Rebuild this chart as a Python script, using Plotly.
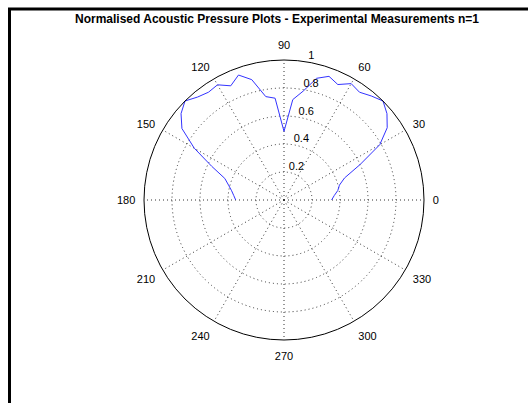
import plotly.graph_objects as go

theta_deg = [0, 5, 10, 15, 20, 25, 30, 35, 40, 45, 50, 55, 60, 65, 70, 75, 80, 85, 90,
             95, 100, 105, 110, 115, 120, 125, 130, 135, 140, 145, 150, 155, 160, 165, 170, 175, 180]
pressure = [0.34, 0.36, 0.39, 0.41, 0.46, 0.60, 0.79, 0.90, 0.96, 1.00, 0.97, 0.94, 0.96, 0.91, 0.94, 0.90, 0.79, 0.72, 0.49,
            0.73, 0.75, 0.89, 0.95, 0.90, 0.95, 0.94, 0.96, 1.00, 0.96, 0.89, 0.74, 0.57, 0.45, 0.41, 0.38, 0.36, 0.345]

angle_ticks = list(range(0, 360, 30))
angle_labels = [str(a) for a in angle_ticks]
radial_ticks = [0.2, 0.4, 0.6, 0.8, 1.0]
radial_labels = ["0.2", "0.4", "0.6", "0.8", "1"]
radial_label_angle = 80

W, H = 528, 403
cx, cy, R = 284, 200, 140

font = dict(family="Liberation Sans, Arial, sans-serif", size=11, color="#000")

fig = go.Figure()
fig.add_trace(go.Scatterpolar(
    r=pressure, theta=theta_deg, mode="lines",
    line=dict(color="#3333ff", width=1), showlegend=False, hoverinfo="skip",
))
# radial tick labels, placed like MATLAB's polar() labels
fig.add_trace(go.Scatterpolar(
    r=radial_ticks, theta=[radial_label_angle] * len(radial_ticks),
    mode="text", text=radial_labels, textposition="top right",
    textfont=font, showlegend=False, hoverinfo="skip",
))

fig.update_layout(
    width=W, height=H,
    margin=dict(l=0, r=0, t=0, b=0),
    paper_bgcolor="white",
    title=dict(text="<b>Normalised Acoustic Pressure Plots - Experimental Measurements n=1</b>",
               x=277 / W, xanchor="center", y=1 - 19 / H, yanchor="middle",
               font=dict(family="Liberation Sans, Arial, sans-serif", size=12, color="#000")),
    polar=dict(
        domain=dict(x=[(cx - R) / W, (cx + R) / W], y=[(H - cy - R) / H, (H - cy + R) / H]),
        bgcolor="white",
        angularaxis=dict(
            direction="counterclockwise", rotation=0,
            tickmode="array", tickvals=angle_ticks, ticktext=angle_labels,
            showline=True, linecolor="#000", linewidth=1,
            showgrid=True, gridcolor="#333", griddash="1px,3px", gridwidth=1,
            ticks="outside", ticklen=6, tickcolor="rgba(0,0,0,0)", tickfont=font,
        ),
        radialaxis=dict(
            range=[0, 1], angle=radial_label_angle,
            tickmode="array", tickvals=radial_ticks,
            showline=False, ticks="", showticklabels=False,
            showgrid=True, gridcolor="#333", griddash="1px,3px", gridwidth=1,
        ),
    ),
    shapes=[
        dict(type="line", xref="paper", yref="paper", x0=8 / W, x1=1, y0=1 - 9 / H, y1=1 - 9 / H,
             line=dict(color="#000", width=3)),
        dict(type="line", xref="paper", yref="paper", x0=9.5 / W, x1=9.5 / W, y0=0, y1=1 - 8 / H,
             line=dict(color="#000", width=3)),
    ],
)

fig.write_html("out.html")
